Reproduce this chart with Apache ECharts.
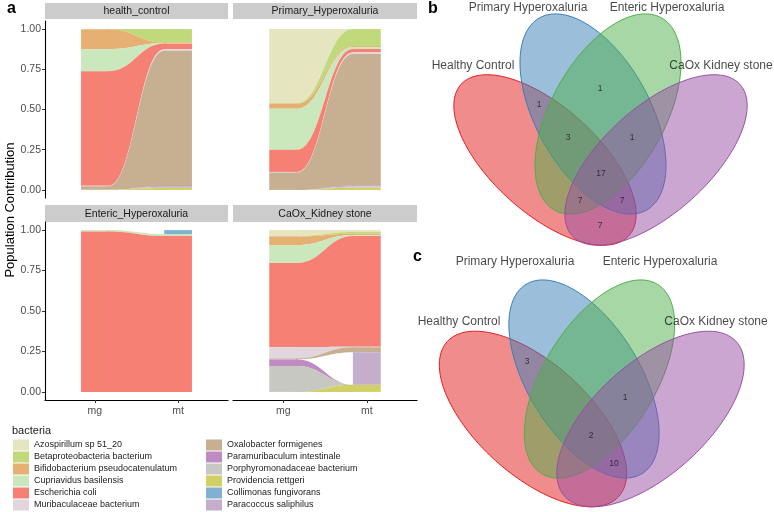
<!DOCTYPE html>
<html><head><meta charset="utf-8">
<script src="https://cdn.jsdelivr.net/npm/echarts@6/dist/echarts.min.js"></script>
<style>html,body{margin:0;padding:0;background:#fff}#c{width:774px;height:512px}</style>
</head><body><div id="c"></div>
<script>
// ---------------- DATA ----------------
const bacteria = ['Azospirillum sp 51_20','Betaproteobacteria bacterium','Bifidobacterium pseudocatenulatum','Cupriavidus basilensis','Escherichia coli','Muribaculaceae bacterium','Oxalobacter formigenes','Paramuribaculum intestinale','Porphyromonadaceae bacterium','Providencia rettgeri','Collimonas fungivorans','Paracoccus saliphilus'];
const bacteriaColors = ['#E5E5C0','#C0D97A','#E6B072','#CBE8BC','#F78074','#E1D5DE','#C6B091','#BE8CC3','#C8C8C3','#D0D064','#80B0D2','#C4AECC'];
// stacking order of strata (top to bottom)
const stackTopToBottom = ['Azospirillum sp 51_20','Betaproteobacteria bacterium','Bifidobacterium pseudocatenulatum','Collimonas fungivorans','Cupriavidus basilensis','Escherichia coli','Muribaculaceae bacterium','Oxalobacter formigenes','Paracoccus saliphilus','Paramuribaculum intestinale','Porphyromonadaceae bacterium','Providencia rettgeri'];
const groups = ['health_control','Primary_Hyperoxaluria','Enteric_Hyperoxaluria','CaOx_Kidney stone'];
const stages = ['mg','mt'];
const yTicks = [0, 0.25, 0.5, 0.75, 1];
// values in the order of `bacteria`; null = absent (no flow)
const healthControl_mg = [null, 0.002, 0.123, 0.137, 0.712, 0.003, 0.022, 0, 0, 0.001, null, null];
const healthControl_mt = [null, 0.085, 0.002, 0.003, 0.035, 0.010, 0.840, 0.005, 0.008, 0.012, null, null];
const primary_mg  = [0.460, 0.004, 0.031, 0.255, 0.138, 0.004, 0.108, 0, 0, 0, null, null];
const primary_mt  = [0, 0.106, 0.006, 0.012, 0.021, 0.010, 0.817, 0.006, 0.008, 0.014, null, null];
const enteric_mg  = [null, null, null, 0.008, 0.992, null, null, null, null, null, null, null];
const enteric_mt  = [null, null, null, 0.012, 0.963, null, null, null, null, null, 0.025, null];
const caox_mg     = [0.037, 0.002, 0.053, 0.111, 0.520, 0.070, 0.006, 0.041, 0.160, 0, null, null];
const caox_mt     = [0.012, 0.010, 0.008, 0.006, 0.685, 0.003, 0.031, 0, 0, 0.045, null, 0.200];
const groupValues = [[healthControl_mg, healthControl_mt],[primary_mg, primary_mt],[enteric_mg, enteric_mt],[caox_mg, caox_mt]];

const vennSets = ['Healthy Control','Primary Hyperoxaluria','Enteric Hyperoxaluria','CaOx Kidney stone'];
const vennColors = ['#E41A1C','#377EB8','#4DAF4A','#984EA3'];
const vennB_regions = ['PH&EH','HC&PH','HC&PH&EH','PH&EH&CaOx','HC&PH&EH&CaOx','HC&EH&CaOx','HC&PH&CaOx','HC&CaOx'];
const vennB_counts  = [1, 1, 3, 1, 17, 7, 7, 7];
const vennC_regions = ['HC&PH','PH&EH&CaOx','HC&PH&EH&CaOx','HC&PH&CaOx'];
const vennC_counts  = [3, 1, 2, 10];

// ---------------- LAYOUT ----------------
const FONT = 'Liberation Sans, Arial, Helvetica, sans-serif';
const PANELS = [
  {left:45, top:21, width:183, height:177, stripTop:3, stripH:16, xAxis:false, yAxis:true},
  {left:233, top:21, width:184, height:177, stripTop:3, stripH:16, xAxis:false, yAxis:false},
  {left:45, top:222, width:183, height:178, stripTop:205, stripH:17, xAxis:true, yAxis:true},
  {left:233, top:222, width:184, height:178, stripTop:205, stripH:17, xAxis:true, yAxis:false}
];
const STRATUM_HALF = 1/6;
const VENN = {
  b: {
    grid:{left:440.5, top:-11, width:320, height:280},
    ellipses:[
      {cx:-55.5, cy:31, a:113, b:53, ang:42},
      {cx:-7.5, cy:-15, a:110, b:57, ang:61},
      {cx:7.5, cy:-15, a:110, b:57, ang:-61},
      {cx:55.5, cy:31, a:113, b:53, ang:-42}
    ],
    setLabels:[[-127.5,-63],[-72.5,-121],[66.5,-121],[120.5,-63]],
    regionPos:{'PH&EH':[-0.5,-40],'HC&PH':[-61.5,-24],'HC&PH&EH':[-32.5,9],'PH&EH&CaOx':[31.5,9],
      'HC&PH&EH&CaOx':[0.5,45],'HC&EH&CaOx':[-20.5,72],'HC&PH&CaOx':[21.5,72],'HC&CaOx':[-0.5,97]}
  },
  c: {
    grid:{left:431.75, top:253.5, width:320, height:280},
    ellipses:[
      {cx:-58.75, cy:25.5, a:115.5, b:56, ang:42},
      {cx:-7.75, cy:-14.5, a:111, b:56, ang:58.5},
      {cx:7.75, cy:-14.5, a:111, b:56, ang:-58.5},
      {cx:58.75, cy:25.5, a:115.5, b:56, ang:-42}
    ],
    setLabels:[[-132.75,-71.5],[-76.75,-131.5],[68.25,-131.5],[124.25,-71.5]],
    regionPos:{'HC&PH':[-64.75,-31.5],'PH&EH&CaOx':[33.25,4.5],'HC&PH&EH&CaOx':[-0.75,42.5],'HC&PH&CaOx':[22.25,70.5]}
  }
};

// ---------------- BUILD ----------------
function stackBases(vals){
  const base = new Array(bacteria.length).fill(0);
  let cum = 0;
  for (let i = stackTopToBottom.length - 1; i >= 0; i--) {
    const k = bacteria.indexOf(stackTopToBottom[i]);
    base[k] = cum;
    cum += (vals[k] || 0);
  }
  return base;
}
const bases = groupValues.map(g => [stackBases(g[0]), stackBases(g[1])]);

const grids = [], xAxes = [], yAxes = [], series = [], graphics = [];
PANELS.forEach((p, gi) => {
  grids.push({left:p.left, top:p.top, width:p.width, height:p.height, outerBoundsMode:'none', containLabel:false});
  xAxes.push({type:'value', gridIndex:gi, min:0.4, max:2.6,
    axisLine:{show:p.xAxis, onZero:false, lineStyle:{color:'#000', width:1.1}},
    axisTick:{show:p.xAxis, customValues:[1,2], length:3, lineStyle:{color:'#333'}},
    axisLabel:{show:p.xAxis, customValues:[1,2], formatter:v => stages[Math.round(v)-1], margin:6, color:'#4d4d4d', fontSize:10.5, fontFamily:FONT},
    splitLine:{show:false}});
  yAxes.push({type:'value', gridIndex:gi, min:-0.05, max:1.05,
    axisLine:{show:p.yAxis, lineStyle:{color:'#000', width:1.1}},
    axisTick:{show:p.yAxis, customValues:yTicks, length:3, lineStyle:{color:'#333'}},
    axisLabel:{show:p.yAxis, customValues:yTicks, formatter:v => v.toFixed(2), margin:4, color:'#4d4d4d', fontSize:10.5, fontFamily:FONT},
    splitLine:{show:false}});
  graphics.push({type:'rect', shape:{x:p.left, y:p.stripTop, width:p.width, height:p.stripH}, style:{fill:'#cccccc'}, silent:true});
  graphics.push({type:'text', x:p.left + p.width/2, y:p.stripTop + p.stripH/2 + 0.5,
    style:{text:groups[gi], fill:'#1a1a1a', fontSize:10.5, fontFamily:FONT, textAlign:'center', textVerticalAlign:'middle'}, silent:true});

  bacteria.forEach((name, k) => {
    const mgv = groupValues[gi][0][k], mtv = groupValues[gi][1][k];
    if (mgv == null && mtv == null) return;
    const color = bacteriaColors[k];
    series.push({
      type:'custom', name:name, xAxisIndex:gi, yAxisIndex:gi, silent:true,
      itemStyle:{color:color},
      data:[[1.5, 0.5]],
      renderItem:function(params, api){
        const children = [];
        const b0 = bases[gi][0][k], b1 = bases[gi][1][k];
        const w = STRATUM_HALF;
        function stratum(xc, base, v){
          const pTop = api.coord([xc - w, base + v]);
          const pBot = api.coord([xc + w, base]);
          children.push({type:'rect', shape:{x:pTop[0], y:pTop[1], width:pBot[0]-pTop[0], height:pBot[1]-pTop[1]}, style:{fill:color}});
        }
        if (mgv != null && mgv > 0) stratum(1, b0, mgv);
        if (mtv != null && mtv > 0) stratum(2, b1, mtv);
        if (mgv != null && mtv != null && (mgv > 0 || mtv > 0)) {
          const aBot = api.coord([1 + w, b0]), aTop = api.coord([1 + w, b0 + mgv]);
          const cBot = api.coord([2 - w, b1]), cTop = api.coord([2 - w, b1 + mtv]);
          const dx = cBot[0] - aBot[0], kk = 0.45;
          const c1 = aBot[0] + kk*dx, c2 = cBot[0] - kk*dx;
          const ov = 1.2;
          const d = 'M' + (aTop[0]-ov) + ' ' + aTop[1] + ' L' + aTop[0] + ' ' + aTop[1] +
            ' C' + c1 + ' ' + aTop[1] + ' ' + c2 + ' ' + cTop[1] + ' ' + cTop[0] + ' ' + cTop[1] +
            ' L' + (cTop[0]+ov) + ' ' + cTop[1] + ' L' + (cBot[0]+ov) + ' ' + cBot[1] +
            ' L' + cBot[0] + ' ' + cBot[1] +
            ' C' + c2 + ' ' + cBot[1] + ' ' + c1 + ' ' + aBot[1] + ' ' + aBot[0] + ' ' + aBot[1] +
            ' L' + (aBot[0]-ov) + ' ' + aBot[1] + ' Z';
          children.push({type:'path', shape:{pathData:d}, style:{fill:color}});
        }
        return {type:'group', children:children};
      }
    });
  });
});

// Venn diagrams
['b','c'].forEach((key, vi) => {
  const L = VENN[key];
  const gi = grids.length;
  grids.push(Object.assign({outerBoundsMode:'none', containLabel:false}, L.grid));
  xAxes.push({type:'value', gridIndex:gi, min:-160, max:160, show:false});
  yAxes.push({type:'value', gridIndex:gi, min:-140, max:140, inverse:true, show:false});
  const regions = key === 'b' ? vennB_regions : vennC_regions;
  const counts = key === 'b' ? vennB_counts : vennC_counts;
  series.push({
    type:'custom', name:'venn_' + key, xAxisIndex:gi, yAxisIndex:gi, silent:true, clip:false,
    data: vennSets.map((s, i) => [0, 0, i]),
    renderItem:function(params, api){
      const i = params.dataIndex;
      const e = L.ellipses[i];
      const th = e.ang * Math.PI / 180;
      const pts = [];
      for (let j = 0; j < 180; j++) {
        const t = j / 180 * 2 * Math.PI;
        const u = e.cx + e.a*Math.cos(t)*Math.cos(th) - e.b*Math.sin(t)*Math.sin(th);
        const v = e.cy + e.a*Math.cos(t)*Math.sin(th) + e.b*Math.sin(t)*Math.cos(th);
        pts.push(api.coord([u, v]));
      }
      const col = echarts.color.modifyAlpha(vennColors[i], 0.5);
      return {type:'polygon', shape:{points:pts}, style:{fill:col, stroke:vennColors[i], lineWidth:1}};
    }
  });
  series.push({
    type:'scatter', name:'venn_sets_' + key, xAxisIndex:gi, yAxisIndex:gi, silent:true, symbolSize:0, clip:false,
    data: vennSets.map((s, i) => ({name:s, value:L.setLabels[i]})),
    label:{show:true, position:'inside', formatter:'{b}', color:'#1a1a1a', fontSize:12, fontFamily:FONT}
  });
  series.push({
    type:'scatter', name:'venn_counts_' + key, xAxisIndex:gi, yAxisIndex:gi, silent:true, symbolSize:0, clip:false,
    data: regions.map((r, i) => ({name:r, value:L.regionPos[r].concat([counts[i]])})),
    label:{show:true, position:'inside', formatter:p => String(p.value[2]), color:'#1a1a1a', fontSize:8.5, fontFamily:FONT}
  });
});

graphics.push({type:'text', x:10, y:210, rotation:Math.PI/2,
  style:{text:'Population Contribution', fill:'#000', fontSize:13, fontFamily:FONT, textAlign:'center', textVerticalAlign:'middle'}, silent:true});

const legendCommon = {orient:'vertical', icon:'rect', itemWidth:16, itemHeight:11, itemGap:1, selectedMode:false,
  textStyle:{fontSize:9, color:'#1a1a1a', fontFamily:FONT, lineHeight:11}, padding:0};

const option = {
  animation:false,
  backgroundColor:'#fff',
  title:[
    {text:'a', left:7, top:1, padding:0, textStyle:{fontSize:16, fontWeight:'bold', color:'#000', fontFamily:FONT}},
    {text:'b', left:428, top:1, padding:0, textStyle:{fontSize:16, fontWeight:'bold', color:'#000', fontFamily:FONT}},
    {text:'c', left:413, top:249, padding:0, textStyle:{fontSize:16, fontWeight:'bold', color:'#000', fontFamily:FONT}},
    {text:'bacteria', left:12, top:425, padding:0, textStyle:{fontSize:11, fontWeight:'normal', color:'#1a1a1a', fontFamily:FONT}}
  ],
  legend:[
    Object.assign({left:13, top:439.5, data:bacteria.slice(0,6)}, legendCommon),
    Object.assign({left:206, top:439.5, data:bacteria.slice(6)}, legendCommon)
  ],
  grid:grids, xAxis:xAxes, yAxis:yAxes, series:series, graphic:graphics
};
const chart = echarts.init(document.getElementById('c'), null, {renderer:'canvas'});
chart.setOption(option);
</script></body></html>
